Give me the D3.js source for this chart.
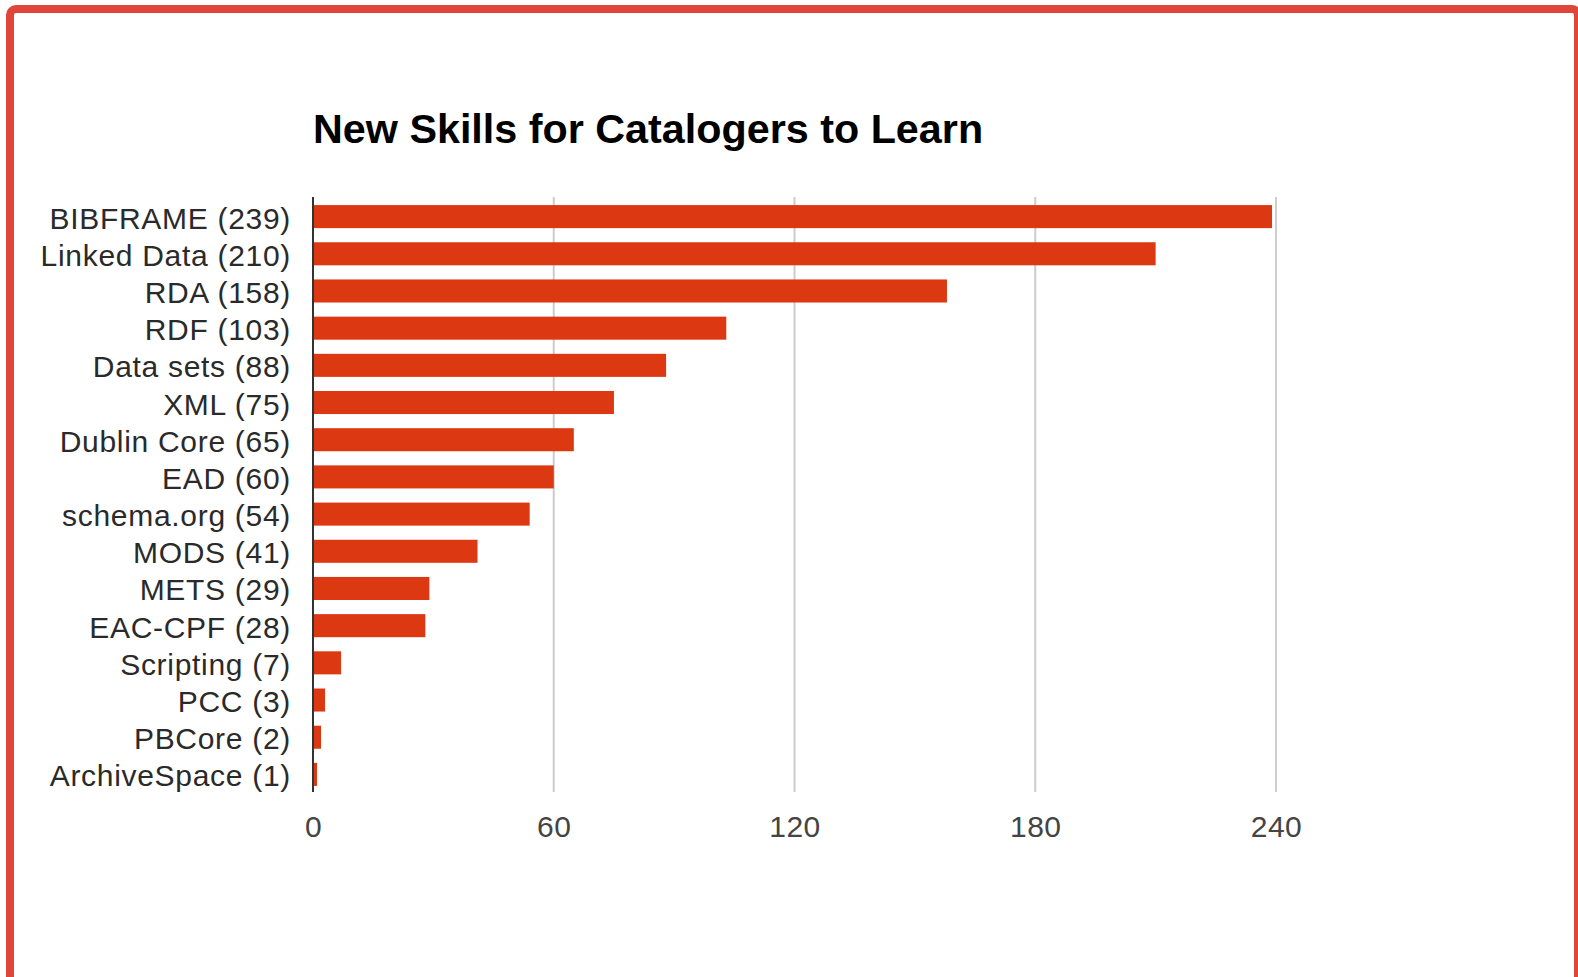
<!DOCTYPE html>
<html><head><meta charset="utf-8">
<script src="https://cdn.jsdelivr.net/npm/d3@7"></script>
<style>html,body{margin:0;padding:0;background:#fff;overflow:hidden}</style>
</head><body>
<svg id="c" width="1578" height="977"></svg>
<script>
const categories = ["BIBFRAME (239)","Linked Data (210)","RDA (158)","RDF (103)","Data sets (88)","XML (75)","Dublin Core (65)","EAD (60)","schema.org (54)","MODS (41)","METS (29)","EAC-CPF (28)","Scripting (7)","PCC (3)","PBCore (2)","ArchiveSpace (1)"];
const values = [239,210,158,103,88,75,65,60,54,41,29,28,7,3,2,1];
const tickValues = [0,60,120,180,240];
const title = "New Skills for Catalogers to Learn";

const svg = d3.select("#c");
// frame
svg.append("rect").attr("x",10).attr("y",9).attr("width",1568).attr("height",1000)
  .attr("rx",6).attr("fill","#fff").attr("stroke","#e0453a").attr("stroke-width",8);

const pLeft = 313, pRight = 1276, pTop = 197, pBottom = 792;
const x = d3.scaleLinear().domain([0,240]).range([pLeft,pRight]);
const y = d3.scaleBand().domain(categories).range([pTop+1,pBottom+1]).paddingInner(0.38).paddingOuter(0.19);

// gridlines
svg.append("g").selectAll("line").data(tickValues.slice(1)).join("line")
  .attr("x1",d=>x(d)).attr("x2",d=>x(d)).attr("y1",pTop).attr("y2",pBottom)
  .attr("stroke","#cccccc").attr("stroke-width",2);

// bars
svg.append("g").selectAll("rect").data(values).join("rect")
  .attr("x",x(0)).attr("y",(d,i)=>y(categories[i]))
  .attr("width",d=>x(d)-x(0)).attr("height",y.bandwidth())
  .attr("fill","#dc3912");

// baseline axis
svg.append("line").attr("x1",x(0)).attr("x2",x(0)).attr("y1",pTop).attr("y2",pBottom)
  .attr("stroke","#333").attr("stroke-width",2);

// category labels via axis
const ya = d3.axisLeft(y).tickSize(0).tickPadding(0);
const gy = svg.append("g").attr("transform",`translate(${291},0)`).call(ya);
gy.select(".domain").remove();
gy.selectAll("text").attr("font-family","'Liberation Sans', Arial, sans-serif")
  .attr("font-size",30).attr("fill","#2a2a2a").attr("dy","0.4em")
  .attr("letter-spacing","0.7px");

// x tick labels
const xa = d3.axisBottom(x).tickValues(tickValues).tickSize(0).tickPadding(0);
const gx = svg.append("g").attr("transform",`translate(0,${837})`).call(xa);
gx.select(".domain").remove();
gx.selectAll("text").attr("font-family","'Liberation Sans', Arial, sans-serif")
  .attr("font-size",30).attr("fill","#444").attr("dy",0).attr("letter-spacing","0.5px");

// title
svg.append("text").attr("x",313).attr("y",143).text(title)
  .attr("font-family","'Liberation Sans', Arial, sans-serif").attr("font-weight","bold")
  .attr("font-size",41.3).attr("fill","#000");
</script>
</body></html>
